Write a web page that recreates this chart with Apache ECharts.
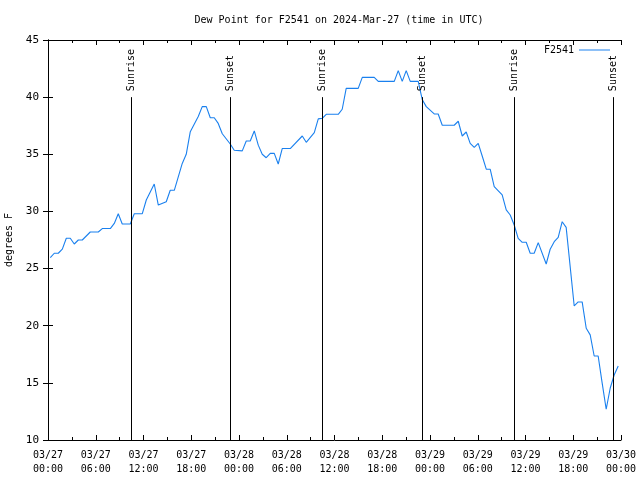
<!DOCTYPE html>
<html>
<head>
<meta charset="utf-8">
<script src="https://cdn.jsdelivr.net/npm/echarts@6/dist/echarts.min.js"></script>
<style>html,body{margin:0;padding:0;background:#fff}#c{width:640px;height:480px}</style>
</head>
<body>
<div id="c"></div>
<script>
// Hours since 2024-03-27 00:00 UTC
const hours = [0.29,0.79,1.29,1.80,2.30,2.80,3.30,3.81,4.31,5.31,6.32,6.82,7.83,8.33,8.83,9.33,10.34,10.84,11.85,12.35,13.35,13.86,14.86,15.36,15.87,16.87,17.37,17.88,18.88,19.38,19.89,20.39,20.89,21.39,21.90,22.90,23.40,24.41,24.91,25.41,25.92,26.42,26.92,27.42,27.93,28.43,28.93,29.43,30.44,31.95,32.45,33.46,33.96,34.46,34.96,36.47,36.97,37.47,38.98,39.49,40.99,41.50,43.51,44.01,44.51,45.01,45.52,46.52,47.02,47.53,48.53,49.03,49.54,51.04,51.55,52.05,52.55,53.05,53.56,54.06,54.56,55.07,55.57,56.07,57.07,57.58,58.08,58.58,59.08,59.59,60.09,60.59,61.09,61.60,62.60,63.10,63.61,64.11,64.61,65.11,66.12,66.62,67.12,67.63,68.13,68.63,69.13,69.64,70.14,70.64,71.14,71.65];
const dewPoint = [25.95,26.34,26.34,26.70,27.65,27.65,27.15,27.50,27.50,28.20,28.20,28.50,28.50,28.95,29.80,28.90,28.90,29.80,29.80,31.00,32.40,30.56,30.85,31.85,31.85,34.20,35.00,36.98,38.30,39.17,39.17,38.20,38.20,37.70,36.80,35.90,35.35,35.30,36.16,36.16,37.04,35.80,35.00,34.70,35.08,35.08,34.15,35.50,35.50,36.60,36.05,36.90,38.10,38.15,38.50,38.50,38.94,40.77,40.77,41.73,41.73,41.38,41.38,42.32,41.38,42.32,41.38,41.38,39.80,39.17,38.53,38.53,37.54,37.54,37.89,36.60,36.95,35.96,35.60,35.96,34.85,33.70,33.69,32.17,31.44,30.13,29.69,28.81,27.65,27.30,27.30,26.34,26.34,27.27,25.40,26.69,27.35,27.73,29.10,28.60,21.73,22.08,22.08,19.78,19.20,17.35,17.35,14.96,12.69,14.53,15.69,16.48];
const sunEventNames = ['Sunrise','Sunset','Sunrise','Sunset','Sunrise','Sunset'];
const sunEventHours = [10.43,22.92,34.46,47.02,58.55,71.02];
const xTickLabels = ['03/27\n00:00','03/27\n06:00','03/27\n12:00','03/27\n18:00','03/28\n00:00','03/28\n06:00','03/28\n12:00','03/28\n18:00','03/29\n00:00','03/29\n06:00','03/29\n12:00','03/29\n18:00','03/30\n00:00'];
const yTickLabels = ['10','15','20','25','30','35','40','45'];

const FONT = 'DejaVu Sans Mono';
const lineColor = '#1a80ee';
const seriesData = hours.map((h, i) => [h, dewPoint[i]]);
const markData = sunEventHours.map((h, i) => [
  {coord: [h, 10], name: sunEventNames[i]},
  {coord: [h, 40], name: sunEventNames[i]}
]);

const chart = echarts.init(document.getElementById('c'), null, {renderer: 'canvas'});
const axisCommon = {
  axisLine: {show: true, lineStyle: {color: '#000', width: 1}},
  splitLine: {show: false}
};
chart.setOption({
  animation: false,
  backgroundColor: '#fff',
  title: {
    text: 'Dew Point for F2541 on 2024-Mar-27 (time in UTC)',
    left: 334, top: 10, textAlign: 'center',
    textStyle: {fontFamily: FONT, fontSize: 10, fontWeight: 'normal', color: '#000'}
  },
  legend: {
    data: [{name: 'F2541', icon: 'rect'}], right: 25, top: 40, align: 'right',
    itemWidth: 31, itemHeight: 1, itemGap: 6,
    textStyle: {fontFamily: FONT, fontSize: 10, color: '#000'}
  },
  grid: {left: 48, right: 19, top: 40, bottom: 40, containLabel: false, outerBoundsMode: 'none'},
  xAxis: [
    Object.assign({
      type: 'value', min: 0, max: 72, interval: 6, position: 'bottom',
      axisTick: {inside: true, length: 5, lineStyle: {color: '#000'}},
      minorTick: {show: true, splitNumber: 2, length: 3, lineStyle: {color: '#000'}},
      axisLabel: {
        fontFamily: FONT, fontSize: 10, color: '#000', margin: 8, lineHeight: 14,
        formatter: v => xTickLabels[Math.round(v / 6)]
      }
    }, axisCommon),
    Object.assign({
      type: 'value', min: 0, max: 72, interval: 6, position: 'top',
      axisTick: {inside: true, length: 5, lineStyle: {color: '#000'}},
      minorTick: {show: true, splitNumber: 2, length: 3, lineStyle: {color: '#000'}},
      axisLabel: {show: false}
    }, axisCommon)
  ],
  yAxis: [
    Object.assign({
      type: 'value', min: 10, max: 45, interval: 5, position: 'left',
      name: 'degrees F', nameLocation: 'middle', nameGap: 33, nameRotate: 90,
      nameTextStyle: {fontFamily: FONT, fontSize: 10, color: '#000'},
      axisTick: {inside: true, length: 5, lineStyle: {color: '#000'}},
      axisLabel: {
        fontFamily: FONT, fontSize: 11, color: '#000', margin: 9,
        formatter: v => yTickLabels[Math.round((v - 10) / 5)]
      }
    }, axisCommon),
    Object.assign({
      type: 'value', min: 10, max: 45, interval: 5, position: 'right',
      axisTick: {inside: true, length: 5, lineStyle: {color: '#000'}},
      axisLabel: {show: false}
    }, axisCommon)
  ],
  series: [{
    name: 'F2541', type: 'line', data: seriesData,
    showSymbol: false, symbol: 'none',
    lineStyle: {color: lineColor, width: 1.1},
    itemStyle: {color: lineColor},
    markLine: {
      silent: true, symbol: 'none',
      lineStyle: {color: '#000', width: 1, type: 'solid'},
      label: {
        show: true, position: 'insideEnd', distance: -6, align: 'left',
        formatter: '{b}', fontFamily: FONT, fontSize: 10, color: '#000'
      },
      emphasis: {disabled: true},
      data: markData
    }
  }]
});
</script>
</body>
</html>
